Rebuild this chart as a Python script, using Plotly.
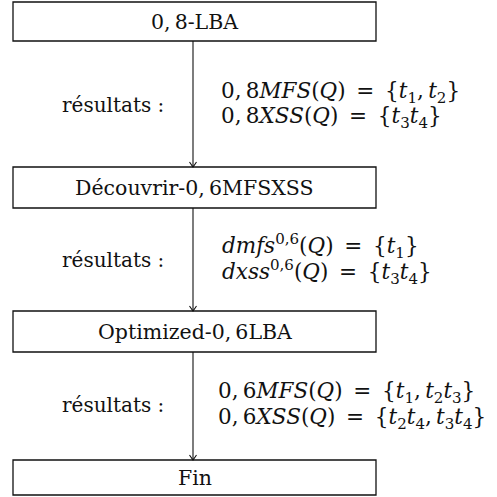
import plotly.graph_objects as go

# ---- data (text content of the flowchart) ----
TS = "\u2009"  # thin space after commas (as in LaTeX math)
EQ = "\u2002=\u2002"  # relation spacing around '='
box_labels = [f"0,{TS}8-LBA", f"Découvrir-0,{TS}6MFSXSS", f"Optimized-0,{TS}6LBA", "Fin"]
result_label = "résultats :"
results_line1 = [
    f"0,{TS}8<i>MFS</i>(<i>Q</i>){EQ}{{<i>t</i><sub>1</sub>,{TS}<i>t</i><sub>2</sub>}}",
    f"<i>dmfs</i><sup>0,6</sup>(<i>Q</i>){EQ}{{<i>t</i><sub>1</sub>}}",
    f"0,{TS}6<i>MFS</i>(<i>Q</i>){EQ}{{<i>t</i><sub>1</sub>,{TS}<i>t</i><sub>2</sub><i>t</i><sub>3</sub>}}",
]
results_line2 = [
    f"0,{TS}8<i>XSS</i>(<i>Q</i>){EQ}{{<i>t</i><sub>3</sub><i>t</i><sub>4</sub>}}",
    f"<i>dxss</i><sup>0,6</sup>(<i>Q</i>){EQ}{{<i>t</i><sub>3</sub><i>t</i><sub>4</sub>}}",
    f"0,{TS}6<i>XSS</i>(<i>Q</i>){EQ}{{<i>t</i><sub>2</sub><i>t</i><sub>4</sub>,{TS}<i>t</i><sub>3</sub><i>t</i><sub>4</sub>}}",
]

# ---- layout geometry (pixels) ----
W = H = 497
box_x0, box_x1 = 13, 376
box_tops = [2, 167, 311, 460]
box_bots = [41, 208, 352, 495]
arrow_x = 193
res_label_x = 113
res_label_y = [105, 260, 405]
form_x = [219, 220, 216]
form_y1 = [92, 246, 392]
form_y2 = [117, 272, 418]

FONT = "DejaVu Serif"
FS_BOX = 20.5
FS_LAB = 20
FS_FORM = 21.5
ink = "#111111"

fig = go.Figure()
shapes = []
annotations = []

for i, lab in enumerate(box_labels):
    shapes.append(dict(type="rect", xref="x", yref="y",
                       x0=box_x0, x1=box_x1, y0=box_tops[i], y1=box_bots[i],
                       line=dict(color=ink, width=1.3), fillcolor="white"))
    annotations.append(dict(x=(box_x0 + box_x1) / 2, y=(box_tops[i] + box_bots[i]) / 2,
                            xref="x", yref="y", text=lab, showarrow=False,
                            font=dict(family=FONT, size=FS_BOX, color=ink),
                            xanchor="center", yanchor="middle"))

for i in range(len(box_labels) - 1):
    y0 = box_bots[i]
    y1 = box_tops[i + 1]
    shapes.append(dict(type="line", xref="x", yref="y", x0=arrow_x, x1=arrow_x,
                       y0=y0, y1=y1, line=dict(color=ink, width=1.1)))
    shapes.append(dict(type="path", xref="x", yref="y",
                       path=f"M {arrow_x-3.5} {y1-5} L {arrow_x} {y1} L {arrow_x+3.5} {y1-5}",
                       line=dict(color=ink, width=1.1)))

for i in range(3):
    annotations.append(dict(x=res_label_x, y=res_label_y[i], xref="x", yref="y",
                            text=result_label, showarrow=False,
                            font=dict(family=FONT, size=FS_LAB, color=ink),
                            xanchor="center", yanchor="middle"))
    annotations.append(dict(x=form_x[i], y=form_y1[i], xref="x", yref="y",
                            text=results_line1[i], showarrow=False,
                            font=dict(family=FONT, size=FS_FORM, color=ink),
                            xanchor="left", yanchor="middle"))
    annotations.append(dict(x=form_x[i], y=form_y2[i], xref="x", yref="y",
                            text=results_line2[i], showarrow=False,
                            font=dict(family=FONT, size=FS_FORM, color=ink),
                            xanchor="left", yanchor="middle"))

fig.update_layout(
    width=W, height=H,
    margin=dict(l=0, r=0, t=0, b=0),
    paper_bgcolor="white", plot_bgcolor="white",
    xaxis=dict(range=[0, W], visible=False, fixedrange=True),
    yaxis=dict(range=[H, 0], visible=False, fixedrange=True),
    shapes=shapes, annotations=annotations,
    showlegend=False,
)
fig.write_html("out.html", config={"displayModeBar": False},
               post_script="document.body.style.margin='0';document.body.style.overflow='hidden';")
